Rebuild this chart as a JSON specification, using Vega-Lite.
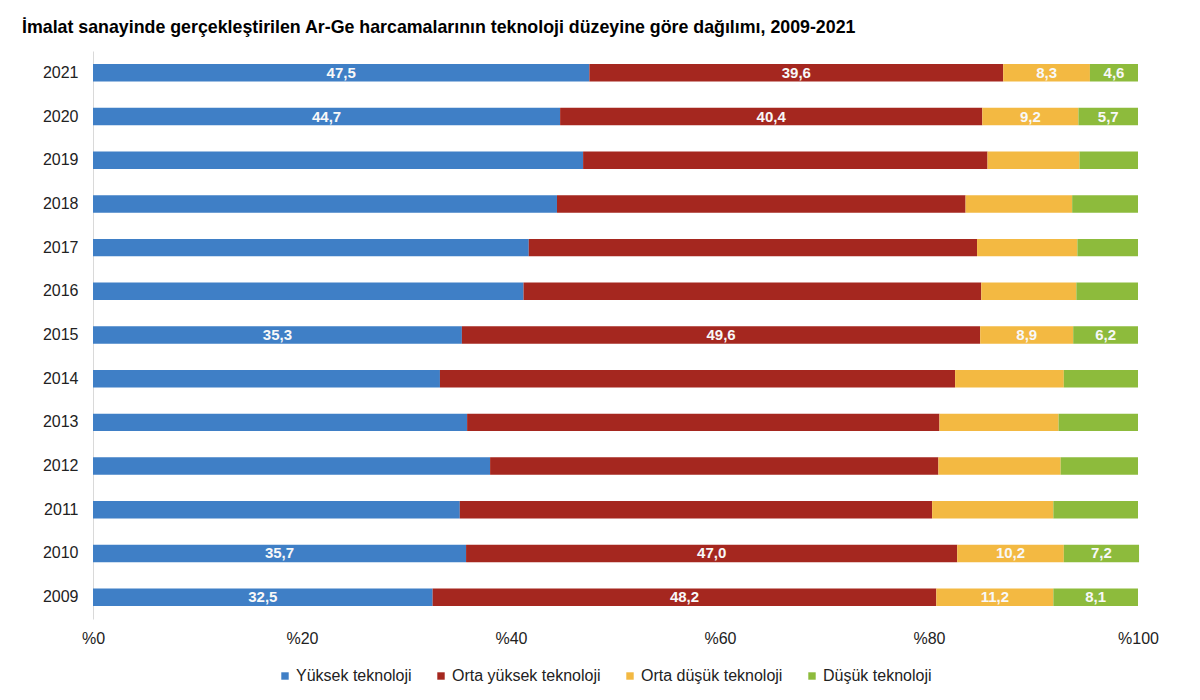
{
  "$schema": "https://vega.github.io/schema/vega-lite/v6.json",
  "width": 1045,
  "height": 568,
  "autosize": "none",
  "padding": {"left": 93, "top": 51, "right": 62, "bottom": 81},
  "background": "white",
  "title": {
    "text": "İmalat sanayinde gerçekleştirilen Ar-Ge harcamalarının teknoloji düzeyine göre dağılımı, 2009-2021",
    "anchor": "start",
    "frame": "group",
    "dx": -71,
    "offset": 14,
    "font": "Liberation Sans",
    "fontSize": 17.8,
    "fontWeight": "bold",
    "color": "#000000"
  },
  "config": {
    "view": {"stroke": null},
    "font": "Liberation Sans"
  },
  "data": {
    "values": [
      {"year": "2021", "cat": "Yüksek teknoloji", "k": 1, "v": 47.5, "label": "47,5"},
      {"year": "2021", "cat": "Orta yüksek teknoloji", "k": 2, "v": 39.6, "label": "39,6"},
      {"year": "2021", "cat": "Orta düşük teknoloji", "k": 3, "v": 8.3, "label": "8,3"},
      {"year": "2021", "cat": "Düşük teknoloji", "k": 4, "v": 4.6, "label": "4,6"},
      {"year": "2020", "cat": "Yüksek teknoloji", "k": 1, "v": 44.7, "label": "44,7"},
      {"year": "2020", "cat": "Orta yüksek teknoloji", "k": 2, "v": 40.4, "label": "40,4"},
      {"year": "2020", "cat": "Orta düşük teknoloji", "k": 3, "v": 9.2, "label": "9,2"},
      {"year": "2020", "cat": "Düşük teknoloji", "k": 4, "v": 5.7, "label": "5,7"},
      {"year": "2019", "cat": "Yüksek teknoloji", "k": 1, "v": 46.9, "label": ""},
      {"year": "2019", "cat": "Orta yüksek teknoloji", "k": 2, "v": 38.7, "label": ""},
      {"year": "2019", "cat": "Orta düşük teknoloji", "k": 3, "v": 8.8, "label": ""},
      {"year": "2019", "cat": "Düşük teknoloji", "k": 4, "v": 5.6, "label": ""},
      {"year": "2018", "cat": "Yüksek teknoloji", "k": 1, "v": 44.4, "label": ""},
      {"year": "2018", "cat": "Orta yüksek teknoloji", "k": 2, "v": 39.1, "label": ""},
      {"year": "2018", "cat": "Orta düşük teknoloji", "k": 3, "v": 10.2, "label": ""},
      {"year": "2018", "cat": "Düşük teknoloji", "k": 4, "v": 6.3, "label": ""},
      {"year": "2017", "cat": "Yüksek teknoloji", "k": 1, "v": 41.7, "label": ""},
      {"year": "2017", "cat": "Orta yüksek teknoloji", "k": 2, "v": 42.9, "label": ""},
      {"year": "2017", "cat": "Orta düşük teknoloji", "k": 3, "v": 9.6, "label": ""},
      {"year": "2017", "cat": "Düşük teknoloji", "k": 4, "v": 5.8, "label": ""},
      {"year": "2016", "cat": "Yüksek teknoloji", "k": 1, "v": 41.2, "label": ""},
      {"year": "2016", "cat": "Orta yüksek teknoloji", "k": 2, "v": 43.8, "label": ""},
      {"year": "2016", "cat": "Orta düşük teknoloji", "k": 3, "v": 9.1, "label": ""},
      {"year": "2016", "cat": "Düşük teknoloji", "k": 4, "v": 5.9, "label": ""},
      {"year": "2015", "cat": "Yüksek teknoloji", "k": 1, "v": 35.3, "label": "35,3"},
      {"year": "2015", "cat": "Orta yüksek teknoloji", "k": 2, "v": 49.6, "label": "49,6"},
      {"year": "2015", "cat": "Orta düşük teknoloji", "k": 3, "v": 8.9, "label": "8,9"},
      {"year": "2015", "cat": "Düşük teknoloji", "k": 4, "v": 6.2, "label": "6,2"},
      {"year": "2014", "cat": "Yüksek teknoloji", "k": 1, "v": 33.2, "label": ""},
      {"year": "2014", "cat": "Orta yüksek teknoloji", "k": 2, "v": 49.3, "label": ""},
      {"year": "2014", "cat": "Orta düşük teknoloji", "k": 3, "v": 10.4, "label": ""},
      {"year": "2014", "cat": "Düşük teknoloji", "k": 4, "v": 7.1, "label": ""},
      {"year": "2013", "cat": "Yüksek teknoloji", "k": 1, "v": 35.8, "label": ""},
      {"year": "2013", "cat": "Orta yüksek teknoloji", "k": 2, "v": 45.2, "label": ""},
      {"year": "2013", "cat": "Orta düşük teknoloji", "k": 3, "v": 11.4, "label": ""},
      {"year": "2013", "cat": "Düşük teknoloji", "k": 4, "v": 7.6, "label": ""},
      {"year": "2012", "cat": "Yüksek teknoloji", "k": 1, "v": 38.0, "label": ""},
      {"year": "2012", "cat": "Orta yüksek teknoloji", "k": 2, "v": 42.9, "label": ""},
      {"year": "2012", "cat": "Orta düşük teknoloji", "k": 3, "v": 11.7, "label": ""},
      {"year": "2012", "cat": "Düşük teknoloji", "k": 4, "v": 7.4, "label": ""},
      {"year": "2011", "cat": "Yüksek teknoloji", "k": 1, "v": 35.1, "label": ""},
      {"year": "2011", "cat": "Orta yüksek teknoloji", "k": 2, "v": 45.2, "label": ""},
      {"year": "2011", "cat": "Orta düşük teknoloji", "k": 3, "v": 11.6, "label": ""},
      {"year": "2011", "cat": "Düşük teknoloji", "k": 4, "v": 8.1, "label": ""},
      {"year": "2010", "cat": "Yüksek teknoloji", "k": 1, "v": 35.7, "label": "35,7"},
      {"year": "2010", "cat": "Orta yüksek teknoloji", "k": 2, "v": 47.0, "label": "47,0"},
      {"year": "2010", "cat": "Orta düşük teknoloji", "k": 3, "v": 10.2, "label": "10,2"},
      {"year": "2010", "cat": "Düşük teknoloji", "k": 4, "v": 7.2, "label": "7,2"},
      {"year": "2009", "cat": "Yüksek teknoloji", "k": 1, "v": 32.5, "label": "32,5"},
      {"year": "2009", "cat": "Orta yüksek teknoloji", "k": 2, "v": 48.2, "label": "48,2"},
      {"year": "2009", "cat": "Orta düşük teknoloji", "k": 3, "v": 11.2, "label": "11,2"},
      {"year": "2009", "cat": "Düşük teknoloji", "k": 4, "v": 8.1, "label": "8,1"}
    ]
  },
  "transform": [
    {"stack": "v", "groupby": ["year"], "sort": [{"field": "k", "order": "ascending"}], "as": ["v0", "v1"]},
    {"calculate": "(datum.v0 + datum.v1) / 2", "as": "mid"}
  ],
  "encoding": {
    "y": {
      "field": "year",
      "type": "ordinal",
      "sort": "descending",
      "title": null,
      "scale": {"paddingInner": 0.6, "paddingOuter": 0.3},
      "axis": {
        "domain": true,
        "domainColor": "#d9d9d9",
        "domainWidth": 1,
        "ticks": false,
        "labelPadding": 15,
        "labelFontSize": 16,
        "labelColor": "#222222",
        "labelFont": "Liberation Sans"
      }
    }
  },
  "layer": [
    {
      "mark": {"type": "bar"},
      "encoding": {
        "x": {
          "field": "v0",
          "type": "quantitative",
          "title": null,
          "scale": {"domain": [0, 100], "nice": false},
          "axis": {
            "values": [0, 20, 40, 60, 80, 100],
            "labelExpr": "'%' + datum.value",
            "labelFlush": false,
            "domain": false,
            "ticks": false,
            "grid": false,
            "labelPadding": 11,
            "labelFontSize": 16,
            "labelColor": "#222222",
            "labelFont": "Liberation Sans"
          }
        },
        "x2": {"field": "v1"},
        "color": {
          "field": "cat",
          "type": "nominal",
          "scale": {
            "domain": ["Yüksek teknoloji", "Orta yüksek teknoloji", "Orta düşük teknoloji", "Düşük teknoloji"],
            "range": ["#3F7FC6", "#A5271F", "#F3B942", "#8DBB3C"]
          },
          "legend": {
            "title": null,
            "orient": "none",
            "legendX": 184,
            "legendY": 617,
            "direction": "horizontal",
            "symbolType": "square",
            "symbolSize": 55,
            "symbolStrokeWidth": 0,
            "labelFontSize": 16,
            "labelColor": "#222222",
            "labelFont": "Liberation Sans",
            "columnPadding": 21,
            "labelOffset": 3
          }
        }
      }
    },
    {
      "transform": [{"filter": "datum.label != ''"}],
      "mark": {"type": "text", "color": "#f8f8f8", "fontWeight": "bold", "fontSize": 15, "baseline": "middle", "align": "center", "font": "Liberation Sans"},
      "encoding": {
        "x": {"field": "mid", "type": "quantitative"},
        "text": {"field": "label", "type": "nominal"}
      }
    }
  ]
}
